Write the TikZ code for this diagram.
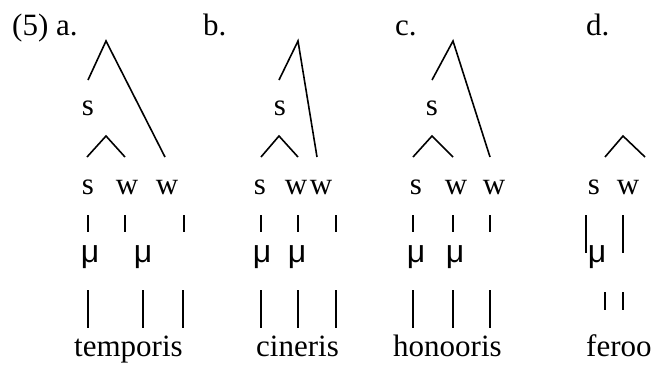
\documentclass[tikz,border=0pt]{standalone}
\usepackage{fontspec}
\setmainfont{Liberation Serif}
\newfontfamily\musans{Liberation Sans}
\begin{document}
\begin{tikzpicture}[x=1pt,y=-1pt,
  br/.style={line width=1.6pt},
  txt/.style={anchor=base,inner sep=0pt,font=\fontsize{31}{31}\selectfont},
  lab/.style={anchor=base west,inner sep=0pt,font=\fontsize{31}{31}\selectfont},
  mu/.style={anchor=base,inner sep=0pt,font=\musans\fontsize{32}{32}\selectfont}]
\useasboundingbox (0,0) rectangle (655,365);
% labels
\node[lab] (la) at (12,35) {(5) a.};
\node[lab] (lb) at (203,35) {b.};
\node[lab] (lc) at (395,35) {c.};
\node[lab] (ld) at (586,35) {d.};

% ---------- tree a ----------
\coordinate (aT) at (106,41);
\coordinate (aL) at (88,80);
\coordinate (aR) at (165,157);
\node[txt] (aS) at (88,115) {s};
\coordinate (aC) at (106,136);
\coordinate (aCL) at (87,157);
\coordinate (aCR) at (125,157);
\draw[br] (aL) -- (aT) -- (aR);
\draw[br] (aCL) -- (aC) -- (aCR);
\node[txt] (as1) at (88,194) {s};
\node[txt] (aw1) at (127,194) {w};
\node[txt] (aw2) at (167,194) {w};
\node[mu] (am1) at (90,262) {μ};
\node[mu] (am2) at (143,262) {μ};
\node[lab] (aword) at (74,356) {temporis};
\foreach \x/\n in {88/1,125/2,184/3}{
  \coordinate (asb\n t) at (\x,215); \coordinate (asb\n b) at (\x,232);
  \draw[br] (asb\n t) -- (asb\n b);}
\foreach \x/\n in {88/1,143/2,183/3}{
  \coordinate (alb\n t) at (\x,290); \coordinate (alb\n b) at (\x,328);
  \draw[br] (alb\n t) -- (alb\n b);}

% ---------- tree b ----------
\coordinate (bT) at (298,41);
\coordinate (bL) at (279,80);
\coordinate (bR) at (317,157);
\node[txt] (bS) at (280,115) {s};
\coordinate (bC) at (279,136);
\coordinate (bCL) at (261,157);
\coordinate (bCR) at (298,157);
\draw[br] (bL) -- (bT) -- (bR);
\draw[br] (bCL) -- (bC) -- (bCR);
\node[txt] (bs1) at (260,194) {s};
\node[txt] (bw1) at (296,194) {w};
\node[txt] (bw2) at (321,194) {w};
\node[mu] (bm1) at (262,262) {μ};
\node[mu] (bm2) at (297,262) {μ};
\node[lab] (bword) at (256,356) {cineris};
\foreach \x/\n in {261/1,298/2,336/3}{
  \coordinate (bsb\n t) at (\x,215); \coordinate (bsb\n b) at (\x,232);
  \draw[br] (bsb\n t) -- (bsb\n b);
  \coordinate (blb\n t) at (\x,290); \coordinate (blb\n b) at (\x,328);
  \draw[br] (blb\n t) -- (blb\n b);}

% ---------- tree c ----------
\coordinate (cT) at (453,41);
\coordinate (cL) at (432,80);
\coordinate (cR) at (490,157);
\node[txt] (cS) at (432,115) {s};
\coordinate (cC) at (432,136);
\coordinate (cCL) at (413,157);
\coordinate (cCR) at (453,157);
\draw[br] (cL) -- (cT) -- (cR);
\draw[br] (cCL) -- (cC) -- (cCR);
\node[txt] (cs1) at (416,194) {s};
\node[txt] (cw1) at (456,194) {w};
\node[txt] (cw2) at (494,194) {w};
\node[mu] (cm1) at (416,262) {μ};
\node[mu] (cm2) at (455,262) {μ};
\node[lab] (cword) at (393,356) {honooris};
\foreach \x/\n in {413/1,453/2,490/3}{
  \coordinate (csb\n t) at (\x,215); \coordinate (csb\n b) at (\x,232);
  \draw[br] (csb\n t) -- (csb\n b);
  \coordinate (clb\n t) at (\x,290); \coordinate (clb\n b) at (\x,328);
  \draw[br] (clb\n t) -- (clb\n b);}

% ---------- tree d ----------
\coordinate (dC) at (623,136);
\coordinate (dCL) at (605,157);
\coordinate (dCR) at (645,157);
\draw[br] (dCL) -- (dC) -- (dCR);
\node[txt] (ds1) at (594,194) {s};
\node[txt] (dw1) at (628,194) {w};
\node[mu] (dm1) at (597,262) {μ};
\node[lab] (dword) at (586,356) {feroo};
\coordinate (dl1t) at (586,215); \coordinate (dl1b) at (586,253);
\coordinate (dl2t) at (623,215); \coordinate (dl2b) at (623,253);
\draw[br] (dl1t) -- (dl1b);
\draw[br] (dl2t) -- (dl2b);
\coordinate (ds1t) at (605,292); \coordinate (ds1b) at (605,310);
\coordinate (ds2t) at (623,292); \coordinate (ds2b) at (623,310);
\draw[br] (ds1t) -- (ds1b);
\draw[br] (ds2t) -- (ds2b);
\end{tikzpicture}
\end{document}
